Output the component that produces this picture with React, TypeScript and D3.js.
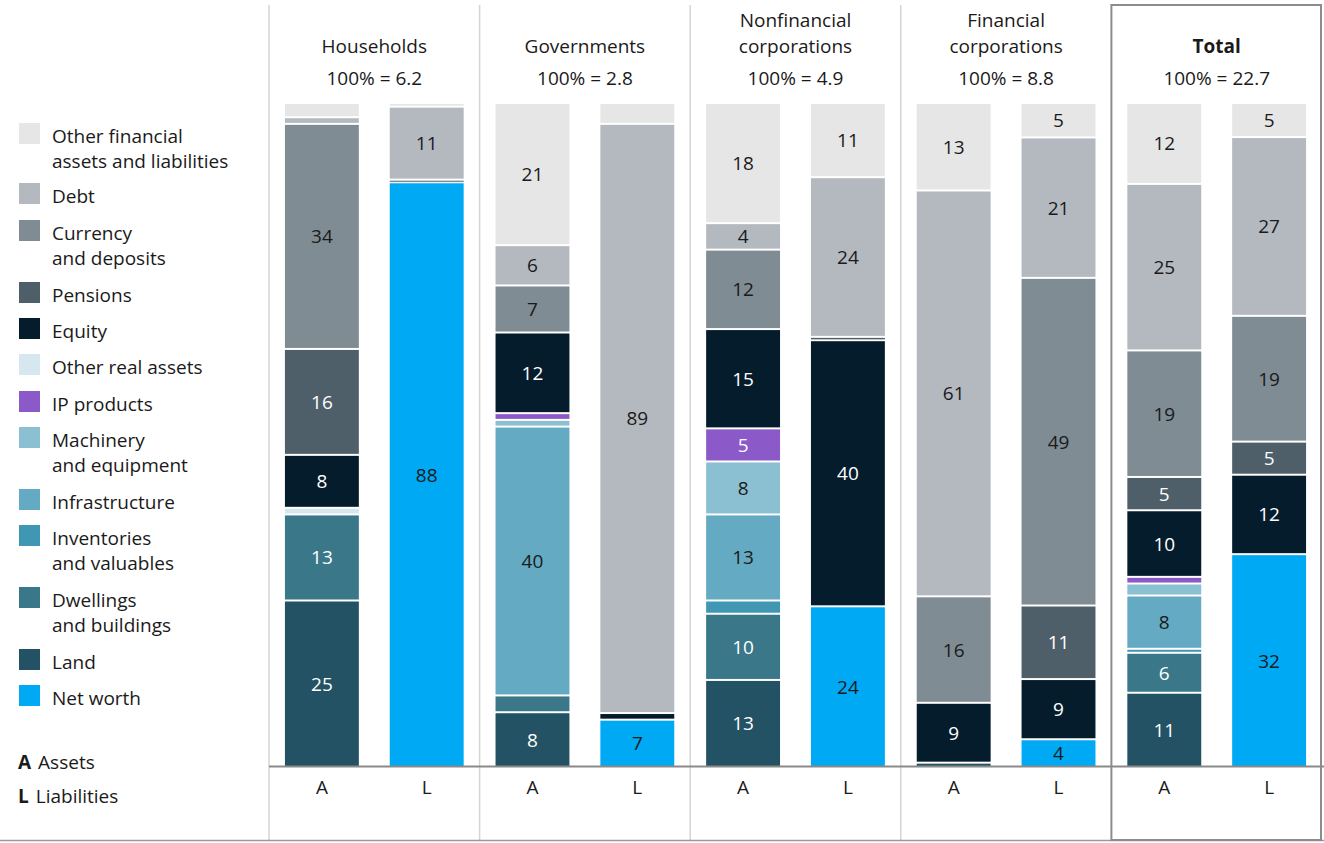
import React from "react";
import * as d3 from "d3";

const sectors = ["Households", "Governments", "Nonfinancial corporations", "Financial corporations", "Total"];
const sectorTitleLines = [["Households"], ["Governments"], ["Nonfinancial", "corporations"], ["Financial", "corporations"], ["Total"]];
const sectorTotals = ["6.2", "2.8", "4.9", "8.8", "22.7"];
const sides = ["A", "L"];

// values per bar, order: HH A, HH L, Gov A, Gov L, NF A, NF L, FC A, FC L, Tot A, Tot L
const otherFinancial = [2, 0.4, 21, 3, 18, 11, 13, 5, 12, 5];
const debt = [1, 11, 6, 89, 4, 24, 61, 21, 25, 27];
const currency = [34, 0.4, 7, 0, 12, 0, 16, 49, 19, 19];
const pensions = [16, 0, 0, 0, 0, 0.5, 0, 11, 5, 5];
const equity = [8, 0, 12, 1, 15, 40, 9, 9, 10, 12];
const otherReal = [1, 0, 0, 0, 0, 0, 0, 0, 0, 0];
const ipProducts = [0, 0, 1, 0, 5, 0, 0, 0, 1, 0];
const machinery = [0, 0, 1, 0, 8, 0, 0, 0, 1.8, 0];
const infrastructure = [0, 0, 40, 0, 13, 0, 0, 0, 8, 0];
const inventories = [0, 0, 0, 0, 2, 0, 0, 0, 0.6, 0];
const dwellings = [13, 0, 2.5, 0, 10, 0, 0, 0, 6, 0];
const land = [25, 0, 8, 0, 13, 0, 0.5, 0, 11, 0];
const netWorth = [0, 88, 0, 7, 0, 24, 0, 4, 0, 32];

// categories top to bottom (legend order)
const categories = [
  { key: "otherFinancial", label: ["Other financial", "assets and liabilities"], color: "#e6e6e6", text: "#1a1a1a", values: otherFinancial },
  { key: "debt", label: ["Debt"], color: "#b3b9bf", text: "#1a1a1a", values: debt },
  { key: "currency", label: ["Currency", "and deposits"], color: "#7f8c94", text: "#1a1a1a", values: currency },
  { key: "pensions", label: ["Pensions"], color: "#4f5f69", text: "#ffffff", values: pensions },
  { key: "equity", label: ["Equity"], color: "#051c2c", text: "#ffffff", values: equity },
  { key: "otherReal", label: ["Other real assets"], color: "#d6e7ef", text: "#1a1a1a", values: otherReal },
  { key: "ip", label: ["IP products"], color: "#8c5ac8", text: "#ffffff", values: ipProducts },
  { key: "machinery", label: ["Machinery", "and equipment"], color: "#8bbfd2", text: "#1a1a1a", values: machinery },
  { key: "infrastructure", label: ["Infrastructure"], color: "#64aac2", text: "#1a1a1a", values: infrastructure },
  { key: "inventories", label: ["Inventories", "and valuables"], color: "#3f97b4", text: "#1a1a1a", values: inventories },
  { key: "dwellings", label: ["Dwellings", "and buildings"], color: "#3a7788", text: "#ffffff", values: dwellings },
  { key: "land", label: ["Land"], color: "#225263", text: "#ffffff", values: land },
  { key: "netWorth", label: ["Net worth"], color: "#00a9f4", text: "#1a1a1a", values: netWorth },
];

const FONT = "'Open Sans', 'DejaVu Sans', sans-serif";

export default function App() {
  const W = 1324, H = 843;
  const top = 104, base = 766;
  const panelX = d3.scaleBand<string>().domain(sectors).range([269, 1322]).paddingInner(0).paddingOuter(0);
  const pw = panelX.bandwidth();
  const sideX = d3.scaleBand<string>().domain(sides).range([0, pw]).paddingInner(0.295).paddingOuter(0.152);
  const y = d3.scaleLinear().domain([0, 1]).range([base, top]);

  const bars = sectors.flatMap((s, si) => sides.map((sd, k) => ({ sector: s, side: sd, idx: si * 2 + k })));
  const rows = bars.map((b) => {
    const r: any = { id: b.idx };
    categories.forEach((c) => (r[c.key] = c.values[b.idx]));
    return r;
  });
  const bottomUp = categories.map((c) => c.key).reverse();
  const stacked = d3.stack<any>().keys(bottomUp).offset(d3.stackOffsetExpand)(rows);

  const legendRows: { cat: typeof categories[0]; y: number }[] = [];
  const legendY = [136, 196, 233, 295, 331, 367, 404, 440, 502, 538, 600, 662, 698];
  categories.forEach((c, i) => legendRows.push({ cat: c, y: legendY[i] }));

  return (
    <svg width={W} height={H} style={{ position: "absolute", left: 0, top: 0, background: "#fff" }} fontFamily={FONT}>
      {/* separators */}
      {sectors.slice(0, 4).map((s) => (
        <line key={s} x1={panelX(s)!} x2={panelX(s)!} y1={5} y2={840} stroke="#d4d4d4" strokeWidth={1.5} />
      ))}
      <line x1={0} x2={1324} y1={840.5} y2={840.5} stroke="#9a9a9a" strokeWidth={1.5} />
      {/* bars */}
      {stacked.map((layer) => {
        const cat = categories.find((c) => c.key === layer.key)!;
        return layer.map((seg, i) => {
          const b = bars[i];
          const v = cat.values[b.idx];
          if (!v) return null;
          const x = panelX(b.sector)! + sideX(b.side)!;
          const y0 = y(seg[0]);
          const y1 = y(seg[1]);
          const isBottom = seg[0] === 0;
          const isTop = seg[1] >= 0.9999;
          const yt = isTop ? y1 : y1 + 1;
          const yb = isBottom ? y0 : y0 - 1;
          const h = Math.max(1.5, yb - yt);
          return (
            <g key={layer.key + i}>
              <rect x={x} y={yt} width={sideX.bandwidth()} height={h} fill={cat.color} />
              {v >= 3.5 && (
                <text x={x + sideX.bandwidth() / 2} y={(yt + yt + h) / 2 + 7} textAnchor="middle" fontSize={19} fill={cat.text}>
                  {Math.round(v)}
                </text>
              )}
            </g>
          );
        });
      })}
      {/* baseline */}
      <line x1={269} x2={1324} y1={766.5} y2={766.5} stroke="#8a8a8a" strokeWidth={2} />
      {/* total box */}
      <rect x={panelX("Total")!} y={5} width={pw - 1} height={835} fill="none" stroke="#8c8c8c" strokeWidth={2} />
      {/* titles */}
      {sectors.map((s, si) => {
        const cx = panelX(s)! + pw / 2;
        const lines = sectorTitleLines[si];
        return (
          <g key={s}>
            {lines.map((l, li) => (
              <text key={li} x={cx} y={53 - (lines.length - 1 - li) * 26} textAnchor="middle" fontSize={19} fill="#1a1a1a" fontWeight={s === "Total" ? 700 : 400}>
                {l}
              </text>
            ))}
            <text x={cx} y={85} textAnchor="middle" fontSize={19} fill="#1a1a1a">{`100% = ${sectorTotals[si]}`}</text>
            {sides.map((sd) => (
              <text key={sd} x={panelX(s)! + sideX(sd)! + sideX.bandwidth() / 2} y={794} textAnchor="middle" fontSize={19} fill="#1a1a1a">
                {sd}
              </text>
            ))}
          </g>
        );
      })}
      {/* legend */}
      {legendRows.map(({ cat, y: ly }) => (
        <g key={cat.key}>
          <rect x={19} y={ly - 13} width={21} height={21} fill={cat.color} />
          {cat.label.map((l, li) => (
            <text key={li} x={52} y={ly + 7 + li * 25} fontSize={19} fill="#1a1a1a">{l}</text>
          ))}
        </g>
      ))}
      <text x={18} y={769} fontSize={19} fill="#1a1a1a"><tspan fontWeight={700}>A</tspan><tspan dx={7}>Assets</tspan></text>
      <text x={18} y={803} fontSize={19} fill="#1a1a1a"><tspan fontWeight={700}>L</tspan><tspan dx={7}>Liabilities</tspan></text>
    </svg>
  );
}
